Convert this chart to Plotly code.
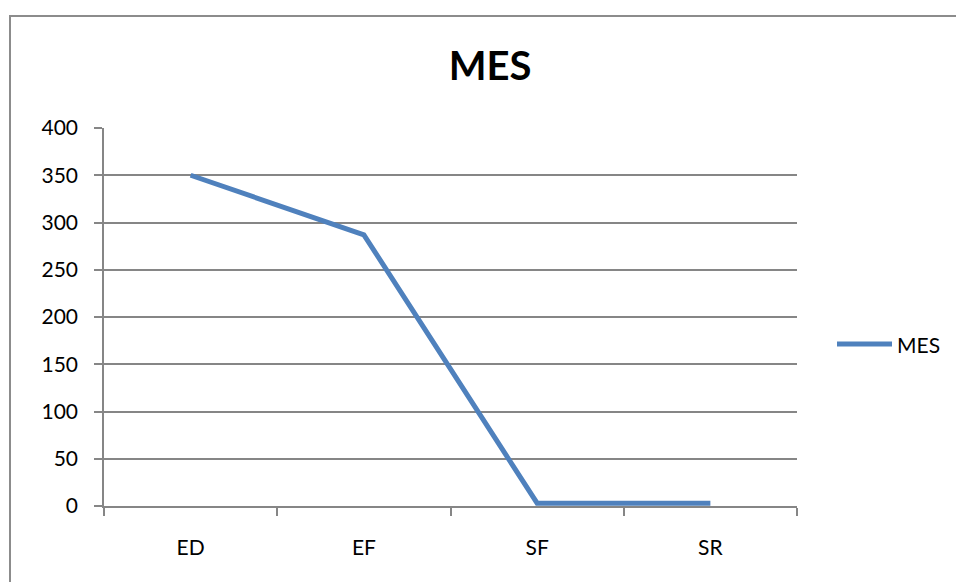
import plotly.graph_objects as go

# Measured MES values per stage
categories = ["ED", "EF", "SF", "SR"]
mes_values = [350, 287, 3, 3]
y_ticks = [0, 50, 100, 150, 200, 250, 300, 350, 400]
series_name = "MES"

W, H = 956, 582
L, R, T, B = 104, 797, 128, 506  # plot area in pixels
pw, ph = R - L, B - T

grid_color = "#868686"
line_color = "#4F81BD"
font_family = "Lato, Calibri, 'Open Sans', sans-serif"


def px_x(x):
    return (x - L) / pw


def px_y(y):
    return (B - y) / ph


fig = go.Figure()
fig.add_trace(go.Scatter(
    x=categories, y=mes_values, mode="lines", name=series_name,
    line=dict(color=line_color, width=5), showlegend=False,
))

fig.update_layout(
    width=W, height=H,
    margin=dict(l=L, r=W - R, t=T, b=H - B, pad=0),
    paper_bgcolor="white", plot_bgcolor="white",
    font=dict(family=font_family, size=21, color="black"),
    title=dict(text="<b>MES</b>", x=490 / W, xanchor="center",
               y=1 - 66 / H, yanchor="middle", yref="container",
               font=dict(size=40, family=font_family, color="black")),
    xaxis=dict(
        type="category", range=[-0.5, 3.5], showgrid=False,
        showline=True, linecolor=grid_color, linewidth=1.5,
        ticks="outside", tickson="boundaries", ticklen=8, tickcolor=grid_color,
        tickwidth=1.5, ticklabelstandoff=22, zeroline=False,
    ),
    yaxis=dict(
        range=[0, 400], tickvals=y_ticks, showgrid=True, gridcolor=grid_color,
        gridwidth=1.5, showline=True, linecolor=grid_color, linewidth=1.5,
        ticks="outside", ticklen=8, tickcolor=grid_color, tickwidth=1.5,
        ticklabelstandoff=12, zeroline=False,
    ),
    shapes=[
        # outer chart frame
        dict(type="rect", xref="paper", yref="paper",
             x0=px_x(10), x1=px_x(W + 20), y0=px_y(H + 20), y1=px_y(16),
             line=dict(color="#8c8c8c", width=2), layer="below"),
        # legend key
        dict(type="line", xref="paper", yref="paper",
             x0=px_x(837), x1=px_x(892), y0=px_y(344), y1=px_y(344),
             line=dict(color=line_color, width=5)),
    ],
    annotations=[dict(
        text=series_name, xref="paper", yref="paper",
        x=px_x(895), y=px_y(344), xanchor="left", yanchor="middle",
        showarrow=False, font=dict(size=21, family=font_family, color="black"),
    )],
)

fig.write_html("out.html")
